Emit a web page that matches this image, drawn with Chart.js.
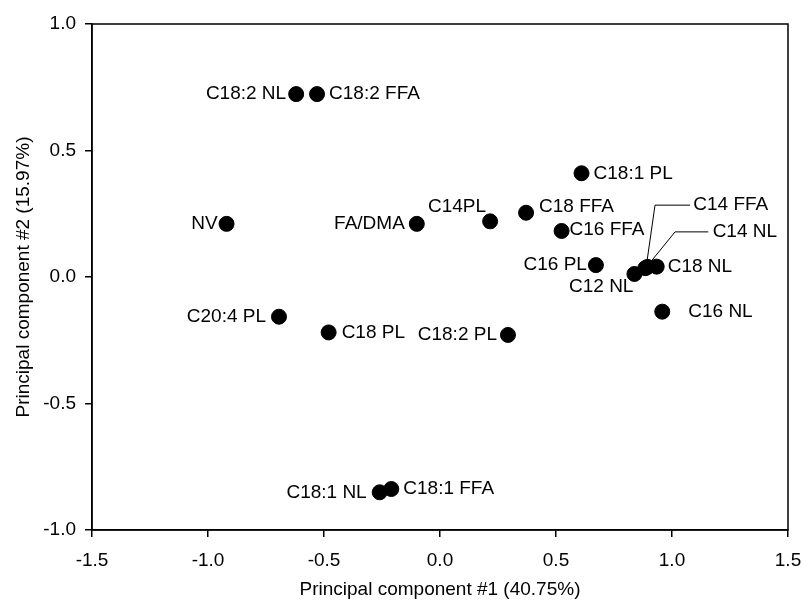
<!DOCTYPE html>
<html>
<head>
<meta charset="utf-8">
<script src="https://cdn.jsdelivr.net/npm/chart.js@4.4.0/dist/chart.umd.min.js"></script>
<style>
  html, body { margin: 0; padding: 0; background: #fff; }
  #wrap { width: 803px; height: 601px; }
</style>
</head>
<body>
<div id="wrap"><canvas id="pca"></canvas></div>
<script>
// PCA scores
const names = ['C18:2 NL', 'C18:2 FFA', 'NV', 'FA/DMA', 'C14PL', 'C20:4 PL', 'C18 PL', 'C18:2 PL',
    'C18:1 NL', 'C18:1 FFA', 'C18:1 PL', 'C18 FFA', 'C16 FFA', 'C16 PL', 'C12 NL',
    'C18 NL', 'C14 FFA', 'C14 NL', 'C16 NL'];
const pc1 = [-0.62, -0.53, -0.92, -0.10, 0.216, -0.694, -0.48, 0.293,
    -0.26, -0.21, 0.61, 0.371, 0.524, 0.672, 0.838,
    0.934, 0.885, 0.895, 0.958];
const pc2 = [0.723, 0.723, 0.21, 0.21, 0.22, -0.157, -0.219, -0.229,
    -0.851, -0.838, 0.41, 0.254, 0.182, 0.047, 0.012,
    0.041, 0.035, 0.040, -0.137];
const xTicks = [-1.5, -1.0, -0.5, 0.0, 0.5, 1.0, 1.5];
const yTicks = [-1.0, -0.5, 0.0, 0.5, 1.0];

const FONT = { family: '"Liberation Sans", Arial, Helvetica, sans-serif', size: 19 };

// where each label sits relative to its dot (pixels), plus leader lines
const labelPlace = {
    'C18:2 NL': { dx: -10, dy: 0, align: 'right' },
    'C18:2 FFA': { dx: 12, dy: 0, align: 'left' },
    'NV': { dx: -9, dy: 0, align: 'right' },
    'FA/DMA': { dx: -12, dy: 0, align: 'right' },
    'C14PL': { dx: -4, dy: -15, align: 'right' },
    'C20:4 PL': { dx: -13, dy: 0, align: 'right' },
    'C18 PL': { dx: 13, dy: 0, align: 'left' },
    'C18:2 PL': { dx: -11, dy: 0, align: 'right' },
    'C18:1 NL': { dx: -13, dy: 0, align: 'right' },
    'C18:1 FFA': { dx: 12, dy: 0, align: 'left' },
    'C18:1 PL': { dx: 12, dy: 0, align: 'left' },
    'C18 FFA': { dx: 13, dy: -6, align: 'left' },
    'C16 FFA': { dx: 8, dy: -1, align: 'left' },
    'C16 PL': { dx: -9, dy: 0, align: 'right' },
    'C12 NL': { dx: -1, dy: 13, align: 'right' },
    'C18 NL': { dx: 11, dy: 0, align: 'left' },
    'C16 NL': { dx: 26, dy: 0, align: 'left' },
    'C14 FFA': { dx: 48, dy: -63, align: 'left', leader: [[1.4, -5], [9.7, -63], [44.7, -63]] },
    'C14 NL': { dx: 65, dy: -35, align: 'left', leader: [[3, -5], [27.4, -35], [60.7, -35]] },
};

const pointLabels = {
    id: 'pointLabels',
    afterDatasetsDraw(chart) {
        const ctx = chart.ctx;
        const meta = chart.getDatasetMeta(0);
        ctx.save();
        ctx.font = `${FONT.size}px ${FONT.family}`;
        ctx.fillStyle = '#000';
        ctx.strokeStyle = '#000';
        ctx.lineWidth = 1;
        ctx.textBaseline = 'middle';
        meta.data.forEach((pt, i) => {
            const p = labelPlace[names[i]] || { dx: 12, dy: 0, align: 'left' };
            if (p.leader) {
                ctx.beginPath();
                p.leader.forEach(([lx, ly], k) => {
                    if (k === 0) ctx.moveTo(pt.x + lx, pt.y + ly);
                    else ctx.lineTo(pt.x + lx, pt.y + ly);
                });
                ctx.stroke();
            }
            ctx.textAlign = p.align;
            ctx.fillText(names[i], pt.x + p.dx, pt.y + p.dy);
        });
        ctx.restore();
    }
};

const frame = {
    id: 'frame',
    afterDraw(chart) {
        const { ctx, chartArea: a } = chart;
        ctx.save();
        ctx.strokeStyle = '#000';
        ctx.lineWidth = 1.5;
        ctx.strokeRect(a.left, a.top, a.right - a.left, a.bottom - a.top);
        ctx.restore();
    }
};

new Chart(document.getElementById('pca'), {
    type: 'scatter',
    data: {
        datasets: [{
            data: pc1.map((v, i) => ({ x: v, y: pc2[i] })),
            backgroundColor: '#000',
            borderColor: '#000',
            pointRadius: 7.5,
            pointHoverRadius: 7.5,
        }]
    },
    options: {
        responsive: true,
        maintainAspectRatio: false,
        animation: false,
        events: [],
        layout: { padding: { top: 24, right: 15, left: 0, bottom: 0 } },
        plugins: { legend: { display: false }, tooltip: { enabled: false } },
        scales: {
            x: {
                type: 'linear',
                min: -1.5, max: 1.5,
                afterBuildTicks: (s) => { s.ticks = xTicks.map(v => ({ value: v })); },
                afterFit: (s) => { s.height = 71; s.paddingLeft = 0; s.paddingRight = 0; },
                grid: { drawOnChartArea: false, tickLength: 7, color: '#000', lineWidth: 1.5 },
                border: { color: '#000', width: 1.5 },
                ticks: { color: '#000', font: FONT, padding: 12, callback: (v) => v.toFixed(1) },
                title: { display: true, text: 'Principal component #1 (40.75%)', color: '#000', font: FONT, padding: { top: 0, bottom: 0 } },
            },
            y: {
                type: 'linear',
                min: -1.0, max: 1.0,
                afterBuildTicks: (s) => { s.ticks = yTicks.map(v => ({ value: v })); },
                afterFit: (s) => { s.width = 92; s.paddingTop = 0; s.paddingBottom = 0; },
                grid: { drawOnChartArea: false, tickLength: 7, color: '#000', lineWidth: 1.5 },
                border: { color: '#000', width: 1.5 },
                ticks: { color: '#000', font: FONT, padding: 9, callback: (v) => v.toFixed(1) },
                title: { display: true, text: 'Principal component #2 (15.97%)', color: '#000', font: FONT, padding: { top: 12, bottom: 0 } },
            }
        }
    },
    plugins: [pointLabels, frame]
});
</script>
</body>
</html>
